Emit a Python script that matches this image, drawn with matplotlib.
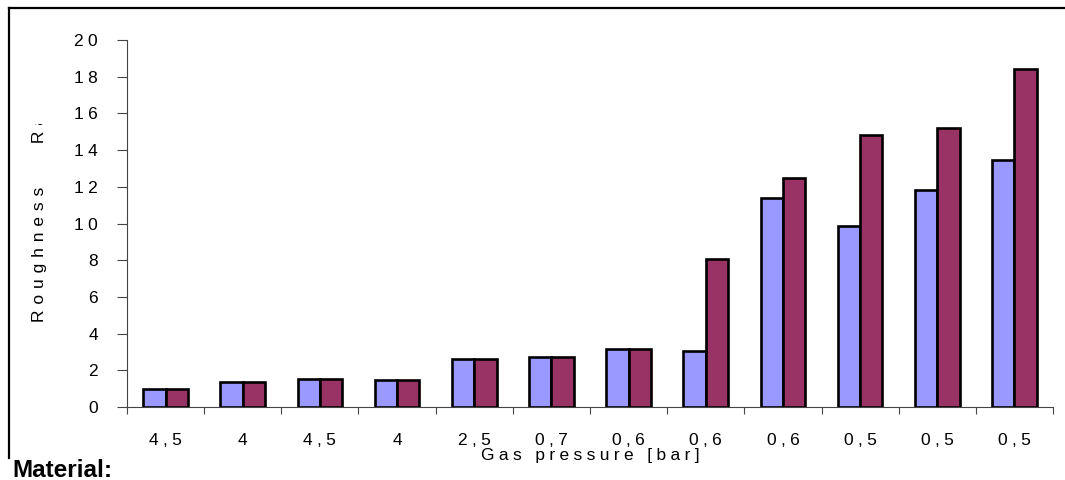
import matplotlib
matplotlib.use("Agg")
import numpy as np
import matplotlib.pyplot as plt
from matplotlib.lines import Line2D
from matplotlib.transforms import Bbox, TransformedBbox

plt.rcParams['font.family'] = ['Liberation Sans', 'DejaVu Sans']

# Datos
pressures = ["4,5", "4", "4,5", "4", "2,5", "0,7", "0,6", "0,6", "0,6", "0,5", "0,5", "0,5"]
ra_blue = [1.0, 1.35, 1.55, 1.45, 2.6, 2.75, 3.15, 3.05, 11.4, 9.85, 11.85, 13.45]
ra_red = [1.0, 1.35, 1.55, 1.45, 2.6, 2.75, 3.15, 8.05, 12.5, 14.85, 15.2, 18.4]
y_ticks = [0, 2, 4, 6, 8, 10, 12, 14, 16, 18, 20]


def spaced(s, sep="\u2004"):
    # imita el espaciado entre letras del original
    return sep.join(s)


W, H = 1065, 480
fig = plt.figure(figsize=(W / 100, H / 100), dpi=100)
ax = fig.add_axes([127 / W, 1 - 407 / H, (1053 - 127) / W, (407 - 40) / H])

x = np.arange(len(pressures))
w = 0.29
ax.bar(x - w / 2, ra_blue, w, color="#9999FF", edgecolor="black", linewidth=1.9)
ax.bar(x + w / 2, ra_red, w, color="#993366", edgecolor="black", linewidth=1.9)

ax.set_xlim(-0.5, len(pressures) - 0.5)
ax.set_ylim(0, 20)

ax.set_yticks(y_ticks)
ax.set_yticklabels([spaced(str(v), "\u2005") for v in y_ticks], fontsize=12.5)
ax.tick_params(axis="y", length=7, width=0.8, pad=14, color="#444444")

ax.set_xticks(x)
ax.set_xticklabels([spaced(p, "\u2005") for p in pressures], fontsize=12.5)
ax.set_xticks(np.arange(len(pressures) + 1) - 0.5, minor=True)
ax.tick_params(axis="x", which="major", length=0, pad=19)
ax.tick_params(axis="x", which="minor", length=5, width=0.8, color="#444444")

for s in ["top", "right"]:
    ax.spines[s].set_visible(False)
for s in ["left", "bottom"]:
    ax.spines[s].set_color("#444444")
    ax.spines[s].set_linewidth(0.8)

ax.set_xlabel(spaced("Gas pressure [bar]", "\u2005"), fontsize=12.5, labelpad=0)

# etiqueta Y recortada como en el original
sep = "\u2005\u200a"
ylab_txt = spaced("Roughness", sep) + sep + "\u2003\u2002\u2004" + sep + spaced("Ra", sep)
ylab = fig.text(40 / W, 1 - 322 / H, ylab_txt, rotation=90,
                ha="center", va="bottom", fontsize=12.5)
ylab.set_clip_box(TransformedBbox(Bbox([[0, 0], [1, 1 - 124 / H]]), fig.transFigure))
ylab.set_clip_on(True)

# marco
fig.add_artist(Line2D([8.5 / W, 8.5 / W], [1 - 458 / H, 1 - 7.5 / H], color="black", lw=1.6))
fig.add_artist(Line2D([8.5 / W, 1.0], [1 - 7.5 / H, 1 - 7.5 / H], color="black", lw=1.6))

fig.text(12 / W, 3 / H, "Material:", fontsize=17.5, fontweight="bold", ha="left", va="baseline")

fig.savefig("out.png", dpi=100)
